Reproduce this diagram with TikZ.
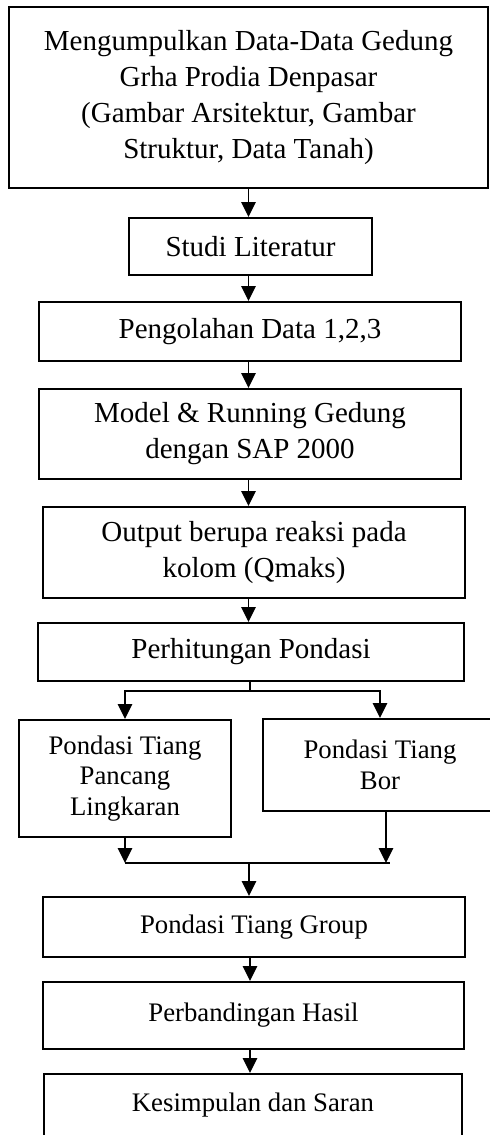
\documentclass[tikz,border=0pt]{standalone}
\usepackage{fontspec}
\setmainfont{Liberation Serif}
\usetikzlibrary{arrows.meta}
\tikzset{
  kotak/.style={draw, line width=0.8pt, align=center, inner sep=0pt, font=\fontsize{11.6}{14.4}\selectfont},
  kotakkecil/.style={kotak, font=\fontsize{10.7}{12.2}\selectfont},
  ukuran/.style 2 args={minimum width=#1*0.4pt, minimum height=#2*0.4pt},
  alur/.style={line width=0.6pt}
}
\begin{document}
\begin{tikzpicture}[x=0.4pt, y=-0.4pt, >={Triangle[length=6pt,width=5.8pt]}]
  \useasboundingbox (0,0) rectangle (490,1135);
  \clip (0,0) rectangle (490,1135);
  % kotak-kotak
  \node[kotak, ukuran={479}{181}] (data) at (248.5,97.5) {Mengumpulkan Data-Data Gedung\\Grha Prodia Denpasar\\(Gambar Arsitektur, Gambar\\Struktur, Data Tanah)};
  \node[kotak, ukuran={243}{57}] (studi) at (250.5,246.5) {Studi Literatur};
  \node[kotak, ukuran={422}{59}] (olah) at (250,331.5) {Pengolahan Data 1,2,3};
  \node[kotak, ukuran={422}{90}] (model) at (250,434) {Model \& Running Gedung\\dengan SAP 2000};
  \node[kotak, ukuran={422}{91}] (output) at (254,552.5) {Output berupa reaksi pada\\kolom (Qmaks)};
  \node[kotak, ukuran={426}{58}] (hitung) at (251,652) {Perhitungan Pondasi};
  \node[kotakkecil, ukuran={212}{117}] (pancang) at (125,778.5) {Pondasi Tiang\\Pancang\\Lingkaran};
  \node[kotakkecil, ukuran={234}{92}] (bor) at (380,765) {Pondasi Tiang\\Bor};
  \node[kotakkecil, ukuran={422}{60}] (group) at (254,927) {Pondasi Tiang Group};
  \node[kotakkecil, ukuran={421}{67}] (banding) at (253.5,1015.5) {Perbandingan Hasil};
  \node[kotakkecil, ukuran={418}{62}] (simpul) at (253,1105) {Kesimpulan dan Saran};
  % titik bantu
  \coordinate (pisah) at (250,691);
  \coordinate (gabung) at (249,863);
  \coordinate (ujung) at (390,863);
  \coordinate (borbawah) at (386,863);
  % panah
  \draw[alur,->] (data.south) -- (data.south |- studi.north);
  \draw[alur,->] (studi.south -| data) -- (olah.north -| data);
  \draw[alur,->] (olah.south -| data) -- (model.north -| data);
  \draw[alur,->] (model.south -| data) -- (output.north -| data);
  \draw[alur,->] (output.south -| data) -- (hitung.north -| data);
  \draw[alur] (hitung.south -| pisah) -- (pisah);
  \draw[alur,->] (pisah) -| (pancang.north);
  \draw[alur,->] (pisah) -| (bor.north);
  \draw[alur,->] (pancang.south) -- (pancang.south |- gabung);
  \draw[alur,->] (bor.south -| borbawah) -- (borbawah);
  \draw[alur] (pancang.south |- gabung) -- (ujung);
  \draw[alur,->] (gabung) -- (group.north -| gabung);
  \draw[alur,->] (group.south -| pisah) -- (banding.north -| pisah);
  \draw[alur,->] (banding.south -| pisah) -- (simpul.north -| pisah);
\end{tikzpicture}
\end{document}
